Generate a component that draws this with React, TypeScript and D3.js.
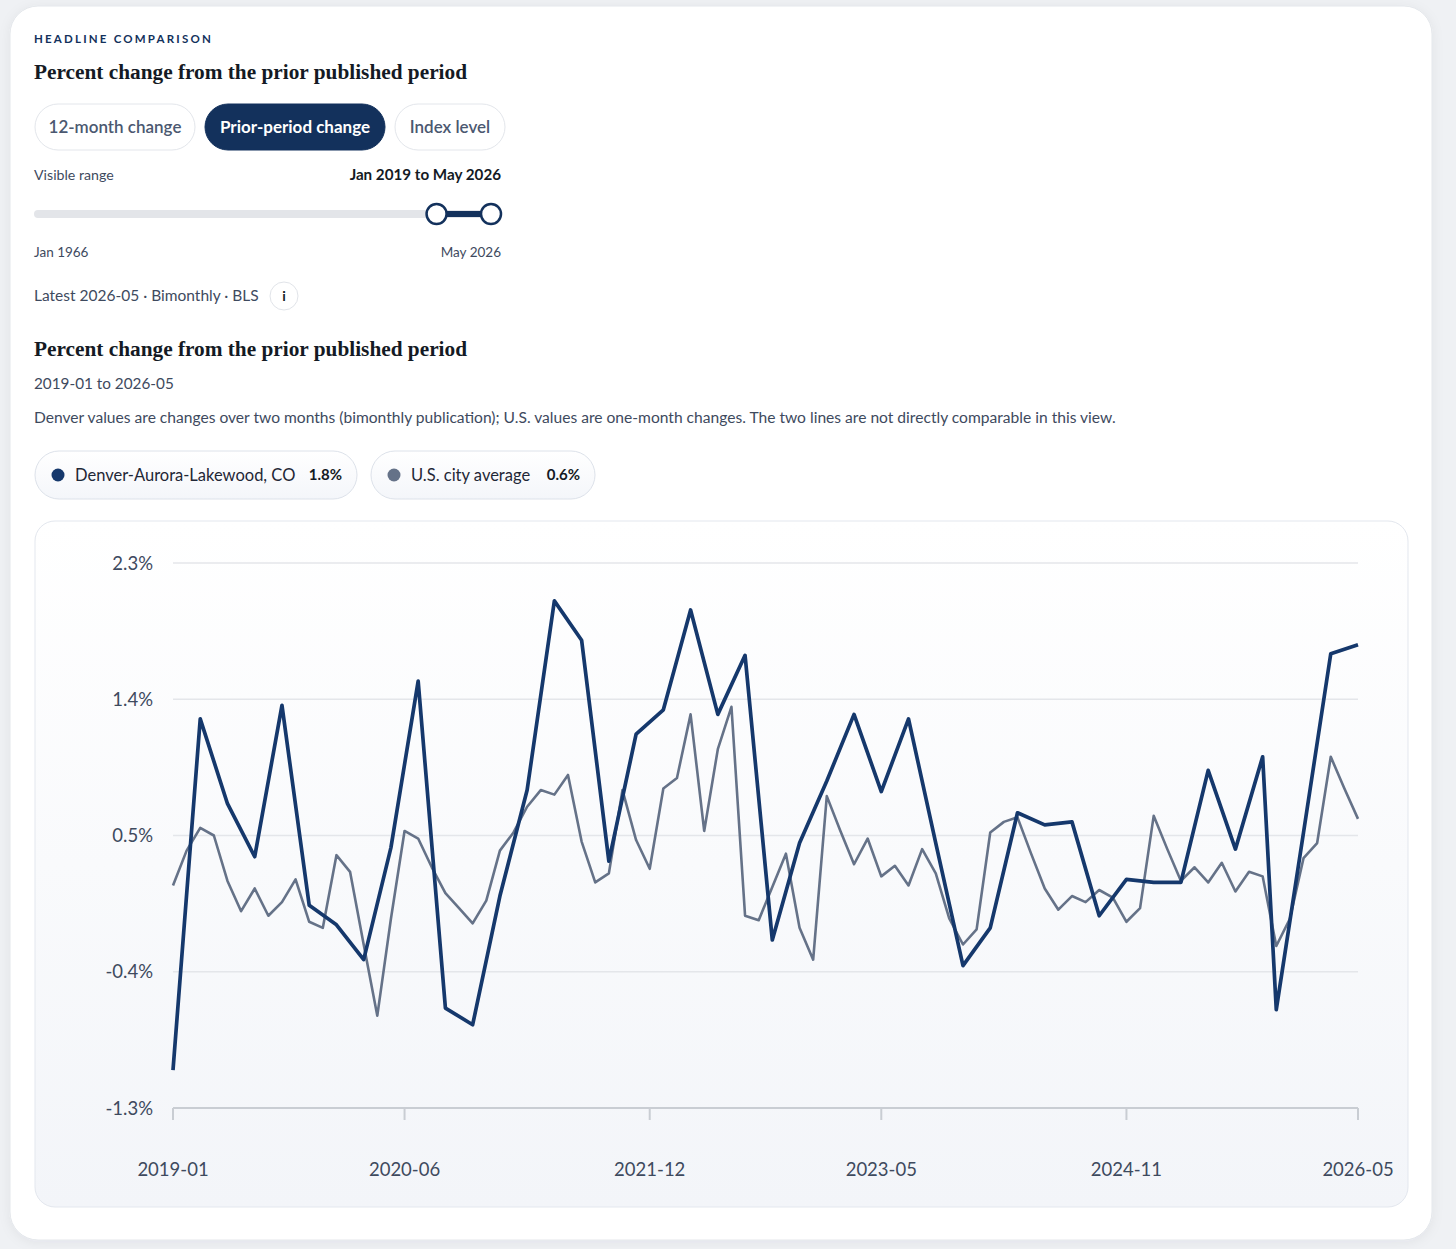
import React from "react";
import * as d3 from "d3";

// ---- data ----
const START_MONTH = "2019-01";
const END_MONTH = "2026-05";
const SKIPPED_MONTHS = ["2025-10"]; // not published

// U.S. city average, one-month % change (one value per published month)
const usValues = [
  0.17, 0.4, 0.55, 0.5, 0.2, 0.0, 0.15, -0.03, 0.06, 0.21, -0.07, -0.11,
  0.37, 0.26, -0.22, -0.69, -0.05, 0.53, 0.48, 0.29, 0.12, 0.02, -0.08, 0.07,
  0.4, 0.52, 0.69, 0.8, 0.77, 0.9, 0.46, 0.19, 0.25, 0.8, 0.47, 0.28,
  0.81, 0.88, 1.3, 0.53, 1.07, 1.35, -0.03, -0.06, 0.16, 0.38, -0.11, -0.32,
  0.76, 0.53, 0.31, 0.48, 0.23, 0.3, 0.17, 0.41, 0.25, -0.05, -0.22, -0.12,
  0.52, 0.59, 0.62, 0.38, 0.15, 0.01, 0.1, 0.06, 0.14, 0.09, -0.07, 0.02,
  0.63, 0.41, 0.2, 0.29, 0.19, 0.32, 0.13, 0.26, 0.23,
  -0.23, -0.05, 0.35, 0.45, 1.02, 0.81, 0.61,
];

// Denver-Aurora-Lakewood, two-month % change (odd months)
const denverValues = [
  -1.05, 1.27, 0.71, 0.36, 1.36, 0.04,
  -0.09, -0.32, 0.42, 1.52, -0.64, -0.75,
  0.1, 0.8, 2.05, 1.79, 0.33, 1.17,
  1.33, 1.99, 1.3, 1.69, -0.19, 0.45,
  0.86, 1.3, 0.79, 1.27, 0.45, -0.36,
  -0.11, 0.65, 0.57, 0.59, -0.03, 0.21,
  0.19, 0.19, 0.93, 0.41, 1.02, -0.65,
  0.52, 1.7, 1.76,
];

const yTicks = [2.3, 1.4, 0.5, -0.4, -1.3];
const xTickLabels = ["2019-01", "2020-06", "2021-12", "2023-05", "2024-11", "2026-05"];

const toggles = ["12-month change", "Prior-period change", "Index level"];
const activeToggle = "Prior-period change";

const seriesNames = ["Denver-Aurora-Lakewood, CO", "U.S. city average"];
const seriesLatest = ["1.8%", "0.6%"];

function monthRange(start: string, end: string): string[] {
  const out: string[] = [];
  let [y, m] = start.split("-").map(Number);
  const [ey, em] = end.split("-").map(Number);
  while (y < ey || (y === ey && m <= em)) {
    out.push(`${y}-${String(m).padStart(2, "0")}`);
    m++;
    if (m > 12) {
      m = 1;
      y++;
    }
  }
  return out;
}

const months = monthRange(START_MONTH, END_MONTH).filter((d) => !SKIPPED_MONTHS.includes(d));
const denverMonths = months.filter((d) => Number(d.slice(5)) % 2 === 1);

const usSeries = months.map((m, i) => ({ month: m, value: usValues[i] }));
const denverSeries = denverMonths.map((m, i) => ({ month: m, value: denverValues[i] }));

// ---- styles ----
const NAVY = "#13315c";
const DENVER = "#15386c";
const US = "#657288";
const TEXT = "#3e4a5e";
const SANS = "Lato, 'Noto Sans', sans-serif";
const SERIF = "'Liberation Serif', 'DejaVu Serif', serif";

const W = 1456;
const H = 1249;

const App: React.FC = () => {
  const x = d3.scalePoint<string>().domain(months).range([173, 1358]);
  const y = d3.scaleLinear().domain([-1.3, 2.3]).range([1108, 563]);

  const line = d3
    .line<{ month: string; value: number }>()
    .x((d) => x(d.month)!)
    .y((d) => y(d.value));

  // range slider
  const slider = d3
    .scaleTime()
    .domain([new Date(1966, 0, 1), new Date(2026, 4, 1)])
    .range([43, 491]);
  const lo = slider(new Date(2019, 0, 1));
  const hi = slider(new Date(2026, 4, 1));

  const toggleBoxes = [
    { x: 35, w: 160 },
    { x: 205, w: 180 },
    { x: 395, w: 110 },
  ];
  const legendBoxes = [
    { x: 35, w: 322, valueX: 342 },
    { x: 371, w: 224, valueX: 580 },
  ];
  const legendColors = [DENVER, US];

  return (
    <div style={{ position: "absolute", left: 0, top: 0 }}>
      <svg width={W} height={H} style={{ display: "block" }} fontFamily={SANS}>
        <defs>
          <filter id="cardShadow" x="-5%" y="-5%" width="110%" height="110%">
            <feDropShadow dx="0" dy="2" stdDeviation="6" floodColor="#1f2a3c" floodOpacity="0.06" />
          </filter>
          <linearGradient id="panelFill" x1="0" y1="0" x2="0" y2="1">
            <stop offset="0%" stopColor="#ffffff" />
            <stop offset="100%" stopColor="#f3f5f9" />
          </linearGradient>
          <linearGradient id="pillFill" x1="0" y1="0" x2="0" y2="1">
            <stop offset="0%" stopColor="#ffffff" />
            <stop offset="100%" stopColor="#f4f6fa" />
          </linearGradient>
        </defs>

        <rect width={W} height={H} fill="#eff1f4" />
        <rect x={10} y={6} width={1422} height={1234} rx={28} fill="#ffffff" stroke="#e4e7eb" filter="url(#cardShadow)" />

        {/* header */}
        <text x={34} y={43} fontSize={11.5} fontWeight={700} letterSpacing={2.2} fill={NAVY}>
          HEADLINE COMPARISON
        </text>
        <text x={34} y={79} fontFamily={SERIF} fontSize={21.3} fontWeight={700} fill="#141a24">
          Percent change from the prior published period
        </text>

        {toggles.map((t, i) => {
          const b = toggleBoxes[i];
          const active = t === activeToggle;
          return (
            <g key={t}>
              <rect
                x={b.x}
                y={104}
                width={b.w}
                height={46}
                rx={23}
                fill={active ? NAVY : "#ffffff"}
                stroke={active ? NAVY : "#e3e6eb"}
              />
              <text
                x={b.x + b.w / 2}
                y={133}
                textAnchor="middle"
                fontSize={17}
                fontWeight={active ? 700 : 600}
                fill={active ? "#ffffff" : "#4b5870"}
              >
                {t}
              </text>
            </g>
          );
        })}

        <text x={34} y={180} fontSize={14.2} fill={TEXT}>
          Visible range
        </text>
        <text x={501} y={180} fontSize={15.2} fontWeight={700} fill="#141a24" textAnchor="end">
          Jan 2019 to May 2026
        </text>
        <rect x={34} y={210} width={467} height={8} rx={4} fill="#e3e5e9" />
        <line x1={lo} x2={hi} y1={214} y2={214} stroke={NAVY} strokeWidth={6} />
        {[lo, hi].map((cx, i) => (
          <circle key={i} cx={cx} cy={214} r={10} fill="#ffffff" stroke={NAVY} strokeWidth={2.5} />
        ))}
        <text x={34} y={257} fontSize={13.5} fill={TEXT}>
          Jan 1966
        </text>
        <text x={501} y={257} fontSize={13.5} fill={TEXT} textAnchor="end">
          May 2026
        </text>

        <text x={34} y={301} fontSize={15.5} fill={TEXT}>
          Latest 2026-05 · Bimonthly · BLS
        </text>
        <circle cx={284} cy={296} r={14} fill="#ffffff" stroke="#e1e4e9" />
        <text x={284} y={301} fontSize={14} fontWeight={700} textAnchor="middle" fill="#141a24">
          i
        </text>

        {/* chart heading */}
        <text x={34} y={356} fontFamily={SERIF} fontSize={21.3} fontWeight={700} fill="#141a24">
          Percent change from the prior published period
        </text>
        <text x={34} y={389} fontSize={15.3} fill={TEXT}>
          2019-01 to 2026-05
        </text>
        <text x={34} y={423} fontSize={15.6} fill={TEXT}>
          Denver values are changes over two months (bimonthly publication); U.S. values are one-month changes. The two
          lines are not directly comparable in this view.
        </text>

        {/* legend */}
        {seriesNames.map((name, i) => {
          const b = legendBoxes[i];
          return (
            <g key={name}>
              <rect x={b.x} y={451} width={b.w} height={48} rx={24} fill="url(#pillFill)" stroke="#dde2ea" />
              <circle cx={b.x + 23} cy={475} r={6.5} fill={legendColors[i]} />
              <text x={b.x + 40} y={481} fontSize={16.5} fill="#1f2736">
                {name}
              </text>
              <text x={b.valueX} y={480} fontSize={15} fontWeight={700} fill="#141a24" textAnchor="end">
                {seriesLatest[i]}
              </text>
            </g>
          );
        })}

        {/* chart panel */}
        <rect x={35} y={521} width={1373} height={686} rx={20} fill="url(#panelFill)" stroke="#e3e7ee" />

        {yTicks.map((t) => (
          <g key={t}>
            {t !== -1.3 && (
              <line x1={173} x2={1358} y1={y(t)} y2={y(t)} stroke="#e4e6ea" strokeWidth={1.5} />
            )}
            <text x={153} y={y(t) + 6.5} fontSize={18.5} fill={TEXT} textAnchor="end">
              {`${t}%`}
            </text>
          </g>
        ))}

        {/* x axis */}
        <line x1={173} x2={1358} y1={1108} y2={1108} stroke="#c9cdd3" strokeWidth={2} />
        {xTickLabels.map((t) => (
          <g key={t} transform={`translate(${x(t)},0)`}>
            <line y1={1108} y2={1120} stroke="#c9cdd3" strokeWidth={2} />
            <text y={1176} fontSize={18.5} fill={TEXT} textAnchor="middle">
              {t}
            </text>
          </g>
        ))}

        <path d={line(usSeries)!} fill="none" stroke={US} strokeWidth={2.6} strokeLinejoin="round" />
        <path d={line(denverSeries)!} fill="none" stroke={DENVER} strokeWidth={3.7} strokeLinejoin="round" />
      </svg>
    </div>
  );
};

export default App;
